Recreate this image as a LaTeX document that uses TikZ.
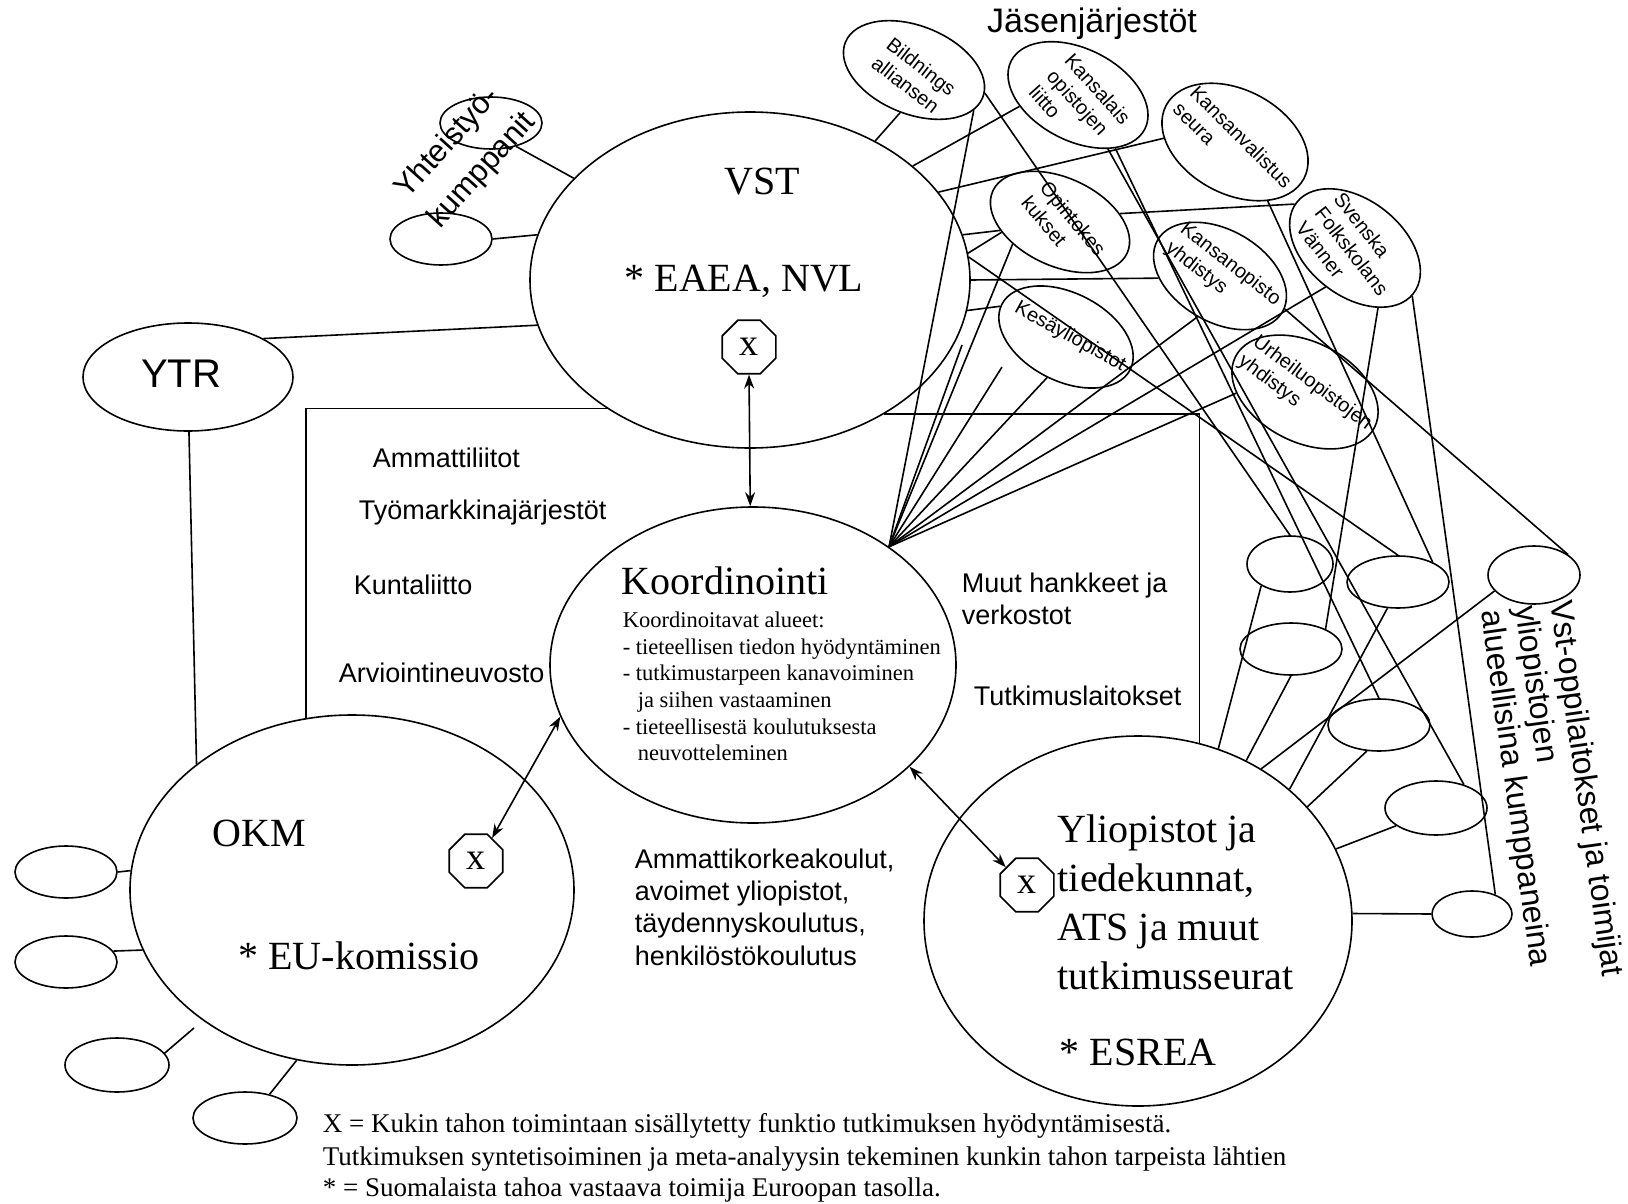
\documentclass[tikz,border=0pt]{standalone}
\usepackage{fontspec}
\setmainfont{Liberation Serif}
\setsansfont{Liberation Sans}
\usetikzlibrary{shapes.geometric,arrows.meta}
\begin{document}
\begin{tikzpicture}[x=1pt,y=-1pt,line width=1.6pt,
  ell/.style={draw,ellipse,inner sep=0pt,line width=1.6pt},
  sm/.style={ell,minimum width=102pt,minimum height=52pt},
  memlab/.style={font=\sffamily\fontsize{20}{24}\selectfont,align=left,inner sep=0pt},
  bigser/.style={font=\fontsize{40}{49}\selectfont,inner sep=0pt},
  sans/.style={font=\sffamily\fontsize{27}{32}\selectfont,inner sep=0pt},
  note/.style={font=\fontsize{27}{32}\selectfont,inner sep=0pt,anchor=base west},
  xoct/.style={draw,regular polygon,regular polygon sides=8,minimum size=58pt,inner sep=0pt,line width=1.6pt,font=\fontsize{38}{38}\selectfont},
  dbl/.style={{Stealth[length=14pt,width=10pt]}-{Stealth[length=14pt,width=10pt]},line width=1.6pt}
]
\useasboundingbox (0,0) rectangle (1628,1204);
% ---------- main ellipses
\node[ell,minimum width=440pt,minimum height=336pt] (vst) at (750,280) {};
\node[ell,minimum width=210pt,minimum height=108pt] (ytr) at (188,377) {};
\node[ell,minimum width=444pt,minimum height=350pt] (okm) at (352,890) {};
\node[ell,minimum width=406pt,minimum height=316pt] (koord) at (753,665) {};
\node[ell,minimum width=428pt,minimum height=370pt] (ylio) at (1138,921) {};
% ---------- small ellipses
\node[sm] (yk1) at (491,123) {};
\node[sm] (yk2) at (441,239) {};
\node[sm] (ok1) at (66,872) {};
\node[sm] (ok2) at (66,962) {};
\node[sm,minimum width=104pt,minimum height=54pt] (ok3) at (117,1065) {};
\node[sm,minimum width=104pt] (ok4) at (245,1118) {};
\node[sm,minimum width=86pt,minimum height=56pt] (s1) at (1290,564) {};
\node[sm] (s2) at (1398,582) {};
\node[sm,minimum width=92pt,minimum height=58pt] (s3) at (1534,575) {};
\node[sm] (s4) at (1291,649) {};
\node[sm] (s5) at (1379,725) {};
\node[sm,minimum height=54pt] (s6) at (1436,808) {};
\node[sm,minimum width=80pt,minimum height=46pt] (s7) at (1472,914) {};
% ---------- member organisations
\node[ell,minimum width=148pt,minimum height=88pt,rotate=-22] (bild) at (914,70) {};
\node[memlab,rotate=-38] (bildt) at (914,76) {Bildnings\\alliansen};
\node[ell,minimum width=150pt,minimum height=92pt,rotate=-27] (kansal) at (1078,95) {};
\node[memlab,rotate=-48] (kansalt) at (1080,105) {Kansalais\\opistojen\\liitto};
\node[ell,minimum width=156pt,minimum height=104pt,rotate=-28] (kanval) at (1235,142) {};
\node[memlab,rotate=-45] (kanvalt) at (1233,145) {Kansanvalistus\\seura};
\node[ell,minimum width=148pt,minimum height=88pt,rotate=-25] (opinto) at (1060,222) {};
\node[memlab,rotate=-50] (opintot) at (1064,226) {Opintokes\\kukset};
\node[ell,minimum width=144pt,minimum height=92pt,rotate=-30] (kanop) at (1220,276) {};
\node[memlab,rotate=-38] (kanopt) at (1223,274) {Kansanopisto\\yhdistys};
\node[ell,minimum width=148pt,minimum height=96pt,rotate=-38] (sven) at (1355,248) {};
\node[memlab,rotate=-52] (svent) at (1352,251) {Svenska\\Folkskolans\\Vänner};
\node[ell,minimum width=144pt,minimum height=88pt,rotate=-27] (kesa) at (1066,337) {};
\node[memlab,rotate=-29] (kesat) at (1070,337) {Kesäyliopistot};
\node[ell,minimum width=156pt,minimum height=100pt,rotate=-27] (urh) at (1305,392) {};
\node[memlab,rotate=-37] (urht) at (1305,393) {Urheiluopistojen\\yhdistys};
% ---------- texts
\node[font=\sffamily\fontsize{34}{40}\selectfont,inner sep=0pt,anchor=base] (jt) at (1092,33) {Jäsenjärjestöt};
\node[font=\sffamily\fontsize{31}{44}\selectfont,align=left,inner sep=0pt,rotate=48] (ykt) at (466,156) {Yhteistyö-\\kumppanit};
\node[bigser,anchor=base] (vstt) at (762,194) {VST};
\node[bigser,anchor=base] (vste) at (744,291) {* EAEA, NVL};
\node[font=\sffamily\fontsize{40}{48}\selectfont,inner sep=0pt,anchor=base] (ytrt) at (181,387) {YTR};
\node[bigser,anchor=base] (okmt) at (259,846) {OKM};
\node[bigser,anchor=base] (okme) at (359,969) {* EU-komissio};
\node[bigser,anchor=base west] (kot) at (621,594) {Koordinointi};
\node[font=\fontsize{22.5}{26.7}\selectfont,align=left,inner sep=0pt,anchor=north west] (kol) at (622,611)
  {Koordinoitavat alueet:\\- tieteellisen tiedon hyödyntäminen\\- tutkimustarpeen kanavoiminen\\\hspace*{15pt}ja siihen vastaaminen\\- tieteellisestä koulutuksesta\\\hspace*{15pt}neuvotteleminen};
\node[bigser,align=left,anchor=north west] (ylt) at (1057,814) {Yliopistot ja\\tiedekunnat,\\ATS ja muut\\tutkimusseurat};
\node[bigser,anchor=base west] (yle) at (1059,1065) {* ESREA};
\node[sans,anchor=base west] (t1) at (372,467) {Ammattiliitot};
\node[sans,anchor=base west] (t2) at (358,519) {Työmarkkinajärjestöt};
\node[sans,anchor=base west] (t3) at (353,594) {Kuntaliitto};
\node[sans,anchor=base west] (t4) at (338,682) {Arviointineuvosto};
\node[sans,anchor=base west] (t5) at (961,592) {Muut hankkeet ja};
\node[sans,anchor=base west] (t6) at (961,624) {verkostot};
\node[sans,anchor=base west] (t7) at (973,705) {Tutkimuslaitokset};
\node[sans,anchor=base west] (t8) at (634,868) {Ammattikorkeakoulut,};
\node[sans,anchor=base west] (t9) at (634,900) {avoimet yliopistot,};
\node[sans,anchor=base west] (t10) at (634,932) {täydennyskoulutus,};
\node[sans,anchor=base west] (t11) at (634,965) {henkilöstökoulutus};
\node[font=\sffamily\fontsize{32}{35}\selectfont,align=left,inner sep=0pt,rotate=-82,anchor=north west] (vt) at (1574,598)
  {Vst-oppilaitokset ja toimijat\\yliopistojen\\alueellisina kumppaneina};
\node[note] (n1) at (322,1132) {X = Kukin tahon toimintaan sisällytetty funktio tutkimuksen hyödyntämisestä.};
\node[note] (n2) at (322,1165) {Tutkimuksen syntetisoiminen ja meta-analyysin tekeminen kunkin tahon tarpeista lähtien};
\node[note] (n3) at (322,1196) {* = Suomalaista tahoa vastaava toimija Euroopan tasolla.};
% ---------- X octagons and arrows
\node[xoct] (vx) at (749,347) {x};
\node[xoct] (ox) at (476,861) {x};
\node[xoct] (yx) at (1027,885) {x};
\draw[dbl] (vx.south) -- (koord.91);
\draw[dbl] (ox.55) -- (koord.195);
\draw[dbl] (koord.-33) -- (yx.140);
% ---------- left connectors
\draw (ytr.27) -- (vst.192);
\draw (ytr.-89) -- (okm.141);
\draw (vst.222) -| (okm.105);
\draw (yk1.-43) -- (vst.150);
\draw (yk2.0) -- (vst.168);
\draw (ok1.0) -- (okm.175);
\draw (ok2.13) -- (okm.196);
\coordinate (ok3e) at (194,1028);
\draw (ok3.14) -- (ok3e);
\draw (ok4.44) -- (okm.252);
% ---------- members to VST
\draw (bild.-86) -- (vst.48);
\draw (kansal.218) -- (vst.35);
\draw (kanval.205) -- (vst.25);
\draw (opinto.213) -- (vst.12);
\draw (opinto.215) -- (vst.7);
\draw (kanop.212) -- (vst.0);
\draw (kesa.182) -- (vst.-8);
\draw (vst.-45) -| (ylio.71);
\draw (vst.6) -- (s2.90);
% ---------- fan to Koordinointi
\coordinate (fr1) at (962,345);
\coordinate (fr2) at (1002,367);
\draw (bild.-12) -- (koord.41);
\draw (opinto.230) -- (koord.41);
\draw (fr1) -- (koord.41);
\draw (fr2) -- (koord.41);
\draw (kesa.-88) -- (koord.41);
\draw (kanop.-89) -- (koord.41);
\draw (sven.-89) -- (koord.41);
\draw (urh.208) -- (koord.41);
\draw (opinto.33) -- (sven.182);
% ---------- members to regional partners
\draw (bild.4) -- (s1.90);
\draw (kansal.-28) -- (s5.90);
\draw (kansal.-34) -- (s6.40);
\draw (kanval.-33) -- (s2.30);
\draw (kanop.3) -- (s3.31);
\draw (sven.-31) -- (s4.30);
\draw (sven.-2) -- (s7.40);
% ---------- regional partners to Yliopistot
\draw (s1.217) -- (ylio.65);
\draw (s4.270) -- (ylio.56);
\draw (s3.202) -- (ylio.51);
\draw (s2.248) -- (ylio.41);
\draw (s5.245) -- (ylio.34);
\draw (s6.204) -- (ylio.20);
\draw (s7.180) -- (ylio.2);
\end{tikzpicture}
\end{document}
